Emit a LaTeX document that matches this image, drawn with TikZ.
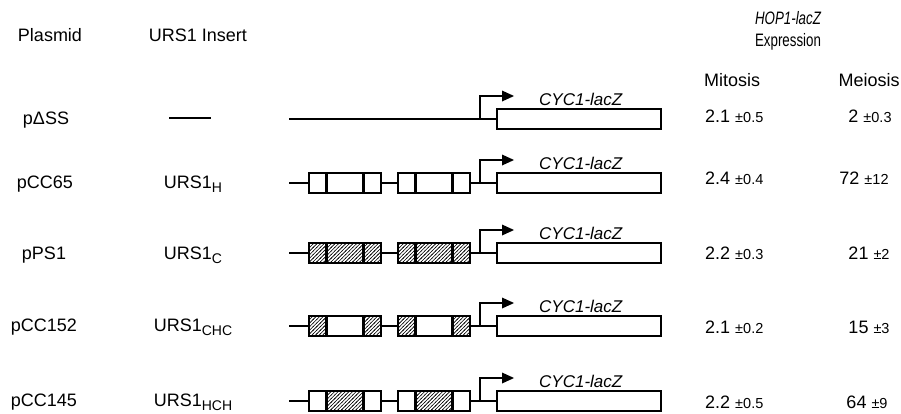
\documentclass[tikz,border=0pt]{standalone}
\usepackage{fontspec}
\usepackage{graphicx}
\setmainfont{Liberation Sans}
\usetikzlibrary{arrows.meta,patterns}

\newcommand\sublbl[1]{\raisebox{-4.5pt}{\fontsize{14}{14}\selectfont #1}}
\newcommand\pmval[1]{{\fontsize{14.5}{16}\selectfont ±#1}}

% diagonal hatching for the URS1 C segments
\pgfdeclarepatternformonly{ursdiag}{\pgfqpoint{-1pt}{-1pt}}{\pgfqpoint{4.6pt}{4.6pt}}{\pgfqpoint{3.6pt}{3.6pt}}{%
  \pgfsetlinewidth{0.6pt}
  \pgfpathmoveto{\pgfqpoint{-0.5pt}{-0.5pt}}
  \pgfpathlineto{\pgfqpoint{4.1pt}{4.1pt}}
  \pgfusepath{stroke}}

\begin{document}
\begin{tikzpicture}[x=1pt,y=-1pt,
  txt/.style={font=\fontsize{18}{20}\selectfont, inner sep=0pt, anchor=base, yshift=-6.4pt},
  txtw/.style={txt, anchor=base west},
  hdr/.style={font=\fontsize{18}{20}\selectfont, inner sep=0pt, anchor=base, yshift=-6.4pt},
  gname/.style={font=\fontsize{17}{19}\selectfont\itshape, inner sep=0pt, anchor=base west, yshift=-6pt},
  dna/.style={line width=2.4pt},
  seg/.style={draw, line width=1.7pt, minimum height=20pt, inner sep=0pt, anchor=west},
  plain/.style={fill=white},
  hatch/.style={pattern=ursdiag},
  gene/.style={draw, line width=1.7pt, minimum width=164pt, minimum height=20pt, inner sep=0pt, anchor=west, fill=white},
  stem/.style={draw=black, line width=2.4pt, line join=miter},
  head/.style={fill=black},
]
\useasboundingbox (0,0) rectangle (901,413);

% column headings
\node[txt] (hplasmid) at (50,35) {Plasmid};
\node[txt] (hinsert) at (198,35) {URS1 Insert};
\node[hdr] (hhop) at (788,18) {\scalebox{0.74}[1]{\itshape HOP1-lacZ}};
\node[hdr] (hexpr) at (788,40) {\scalebox{0.74}[1]{Expression}};
\node[txt] (hmit) at (732,80) {Mitosis};
\node[txt] (hmei) at (869,80) {Meiosis};

% URS1 inserts: two blocks of three segments each
\foreach \r/\y/\ls/\ms/\rs in {2/183/plain/plain/plain,3/253/hatch/hatch/hatch,
                               4/326/hatch/plain/hatch,5/401/plain/hatch/plain}{
  \foreach \b/\x in {a/308,b/397}{
    \node[seg,minimum width=17pt,\ls] (\b l\r) at (\x,\y) {};
    \node[seg,minimum width=35pt,\ms] (\b m\r) at (\b l\r.east) {};
    \node[seg,minimum width=17pt,\rs] (\b r\r) at (\b m\r.east) {};
  }
}

% reporter construct of every row: lacZ box, its label and the promoter arrow
\foreach \r/\y/\t in {1/119/96,2/183/160,3/253/230,4/326/303,5/401/378}{
  \coordinate (start\r) at (289,\y);
  \coordinate (prom\r) at (480,\y);
  \coordinate (bend\r) at (480,\t);
  \coordinate (hb\r) at (502,\t);
  \coordinate (tss\r) at (514,\t);
  \node[gene] (lacz\r) at (496,\y) {};
  \node[gname] (cyc\r) at (539,\y-20) {CYC1-lacZ};
  \path[stem] (prom\r) -- (bend\r) -- (hb\r);
  \path[head] (tss\r) -- ([yshift=5.5pt]hb\r) -- ([yshift=-5.5pt]hb\r) -- cycle;
}

% vector line through the inserts
\draw[dna] (start1) -- (lacz1.west);
\foreach \r in {2,3,4,5}{
  \draw[dna] (start\r) -- (al\r.west);
  \draw[dna] (ar\r.east) -- (bl\r.west);
  \draw[dna] (br\r.east) -- (lacz\r.west);
}

% plasmid names
\node[txt] (n1) at (46,118) {pΔSS};
\node[txt] (n2) at (45,182) {pCC65};
\node[txt] (n3) at (44,253) {pPS1};
\node[txt] (n4) at (44,325) {pCC152};
\node[txt] (n5) at (44,400) {pCC145};

% insert names
\coordinate (d1a) at (169,118);
\coordinate (d1b) at (211,118);
\draw[dna] (d1a) -- (d1b);
\node[txt] (u2) at (193,182) {URS1\sublbl{H}};
\node[txt] (u3) at (193,253) {URS1\sublbl{C}};
\node[txt] (u4) at (193,325) {URS1\sublbl{CHC}};
\node[txt] (u5) at (193,400) {URS1\sublbl{HCH}};

% expression values
\node[txtw] (m1) at (705,116) {2.1 \pmval{0.5}};
\node[txtw] (m2) at (705,178) {2.4 \pmval{0.4}};
\node[txtw] (m3) at (705,253) {2.2 \pmval{0.3}};
\node[txtw] (m4) at (705,327) {2.1 \pmval{0.2}};
\node[txtw] (m5) at (705,402) {2.2 \pmval{0.5}};
\node[txt] (e1) at (870,116) {2 \pmval{0.3}};
\node[txt] (e2) at (864,178) {72 \pmval{12}};
\node[txt] (e3) at (869,253) {21 \pmval{2}};
\node[txt] (e4) at (869,327) {15 \pmval{3}};
\node[txt] (e5) at (867,402) {64 \pmval{9}};
\end{tikzpicture}
\end{document}
